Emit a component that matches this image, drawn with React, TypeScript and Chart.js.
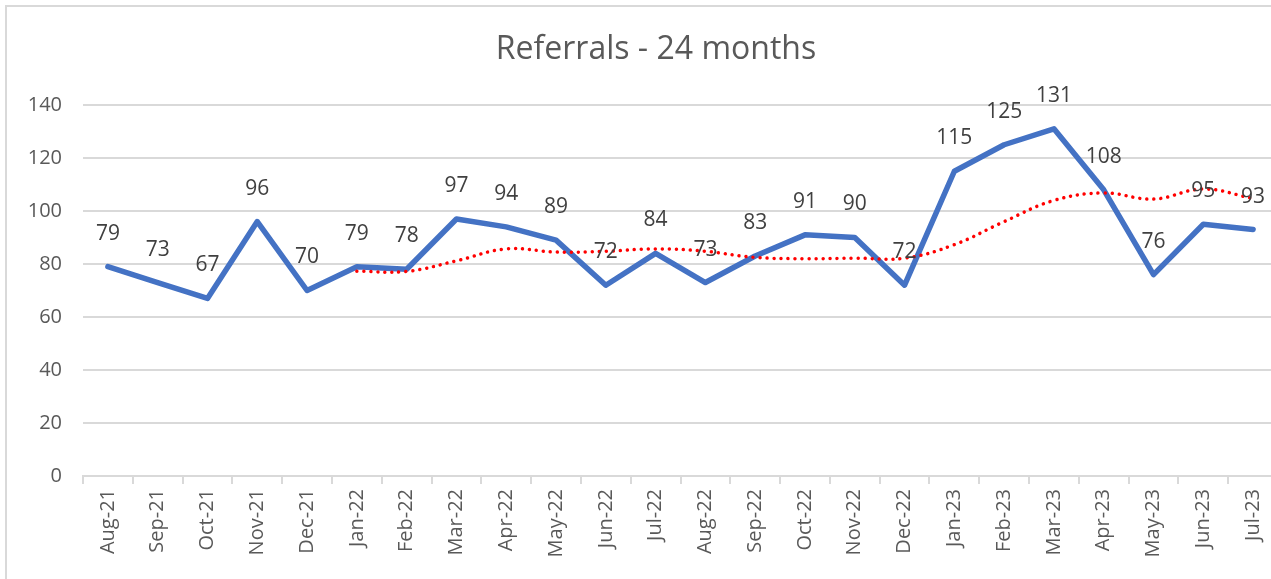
import React, { useEffect, useRef } from "react";
import { Chart, registerables } from "chart.js";

Chart.register(...registerables);

const months = [
  "Aug-21", "Sep-21", "Oct-21", "Nov-21", "Dec-21", "Jan-22", "Feb-22", "Mar-22",
  "Apr-22", "May-22", "Jun-22", "Jul-22", "Aug-22", "Sep-22", "Oct-22", "Nov-22",
  "Dec-22", "Jan-23", "Feb-23", "Mar-23", "Apr-23", "May-23", "Jun-23", "Jul-23",
];

const referrals = [
  79, 73, 67, 96, 70, 79, 78, 97, 94, 89, 72, 84, 73, 83, 91, 90, 72, 115, 125, 131, 108, 76, 95, 93,
];

// red dotted trend line
const movingAvg: (number | null)[] = [
  null, null, null, null, null, 77.3, 77.2, 81.2, 85.7, 84.5, 84.8, 85.7,
  84.8, 82.5, 82.0, 82.2, 82.2, 87.3, 96.0, 104.0, 106.8, 104.5, 108.3, 104.7,
];

const yMin = 0;
const yMax = 140;
const yStep = 20;

const titleText = "Referrals - 24 months";
const FONT = '"Open Sans", "Noto Sans", sans-serif';

const CANVAS_W = 1310;
const CANVAS_H = 600;

const labelPlugin = {
  id: "valueLabels",
  afterDatasetsDraw(chart: any) {
    const meta = chart.getDatasetMeta(1);
    const ctx = chart.ctx;
    ctx.save();
    ctx.font = `21px ${FONT}`;
    ctx.fillStyle = "#404040";
    ctx.textAlign = "center";
    ctx.textBaseline = "middle";
    meta.data.forEach((pt: any, i: number) => {
      ctx.fillText(String(referrals[i]), pt.x, pt.y - 33);
    });
    ctx.restore();
  },
};

const titlePlugin = {
  id: "chartTitle",
  afterDraw(chart: any) {
    const ctx = chart.ctx;
    ctx.save();
    ctx.font = `32px ${FONT}`;
    ctx.fillStyle = "#595959";
    ctx.textAlign = "center";
    ctx.textBaseline = "middle";
    ctx.fillText(titleText, 656, 50);
    ctx.restore();
  },
};

export default function App() {
  const canvasRef = useRef<HTMLCanvasElement | null>(null);

  useEffect(() => {
    if (!canvasRef.current) return;
    const chart = new Chart(canvasRef.current, {
      type: "line",
      data: {
        labels: months,
        datasets: [
          {
            label: "Moving average",
            data: movingAvg,
            borderColor: "#FF0000",
            borderWidth: 3.5,
            borderDash: [0.01, 7],
            borderCapStyle: "round",
            pointRadius: 0,
            tension: 0.4,
            fill: false,
            spanGaps: false,
          },
          {
            label: "Referrals",
            data: referrals,
            borderColor: "#4472C4",
            borderWidth: 5.5,
            borderJoinStyle: "round",
            borderCapStyle: "round",
            pointRadius: 0,
            tension: 0,
            fill: false,
          },
        ],
      },
      options: {
        responsive: false,
        animation: false,
        devicePixelRatio: 1,
        layout: { padding: { left: 0, right: CANVAS_W - 1278, top: 105, bottom: 0 } },
        plugins: {
          legend: { display: false },
          tooltip: { enabled: false },
          title: { display: false },
        },
        scales: {
          x: {
            type: "category",
            offset: true,
            grid: {
              offset: true,
              drawOnChartArea: false,
              drawTicks: true,
              tickLength: 8,
              color: "#d9d9d9",
              lineWidth: 2,
            },
            border: { display: true, color: "#d9d9d9", width: 2 },
            ticks: {
              autoSkip: false,
              minRotation: 90,
              maxRotation: 90,
              color: "#595959",
              font: { family: FONT, size: 20 },
              padding: 5,
            },
            afterFit(scale: any) {
              scale.height = CANVAS_H - 476;
            },
          },
          y: {
            min: yMin,
            max: yMax,
            ticks: {
              stepSize: yStep,
              color: "#595959",
              font: { family: FONT, size: 20 },
              padding: 21,
            },
            grid: { color: "#d9d9d9", lineWidth: 2, drawTicks: false },
            border: { display: false },
            afterFit(scale: any) {
              scale.width = 83;
            },
          },
        },
      },
      plugins: [labelPlugin, titlePlugin],
    });
    return () => chart.destroy();
  }, []);

  return (
    <div
      style={{
        position: "fixed",
        left: 0,
        top: 0,
        width: 1271,
        height: 579,
        overflow: "hidden",
        background: "#ffffff",
      }}
    >
      <div
        style={{
          position: "absolute",
          left: 5,
          top: 5,
          width: 1400,
          height: 700,
          border: "2px solid #d9d9d9",
          boxSizing: "border-box",
        }}
      />
      <canvas
        ref={canvasRef}
        width={CANVAS_W}
        height={CANVAS_H}
        style={{ position: "absolute", left: 0, top: 0, width: CANVAS_W, height: CANVAS_H }}
      />
    </div>
  );
}
